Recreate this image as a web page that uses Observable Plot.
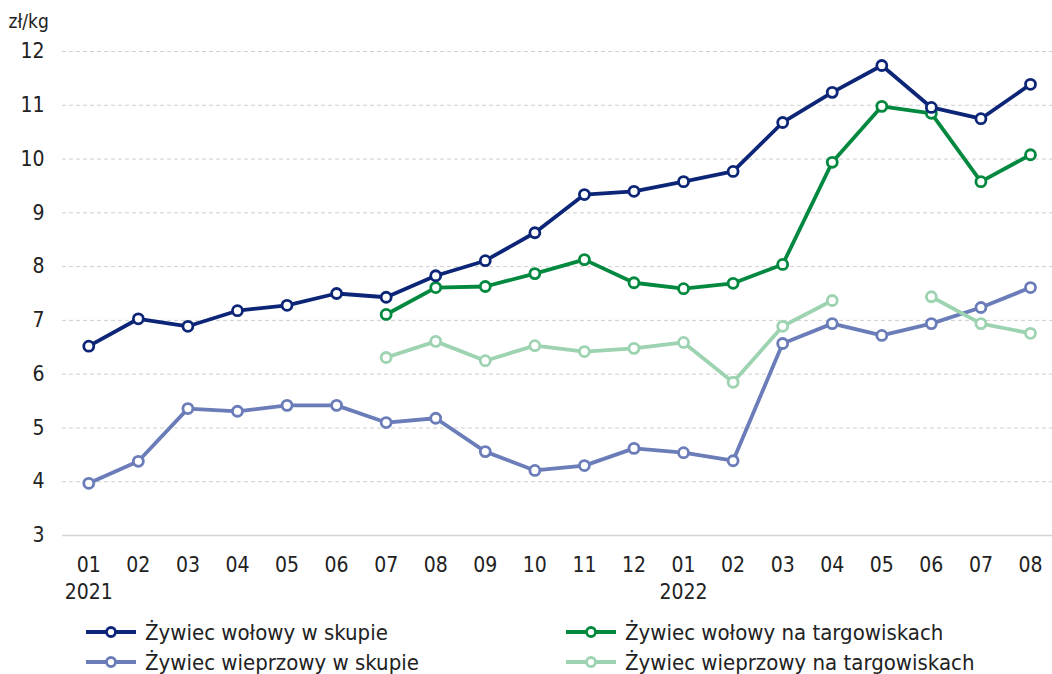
<!DOCTYPE html>
<html>
<head>
<meta charset="utf-8">
<script src="https://cdn.jsdelivr.net/npm/d3@7"></script>
<script src="https://cdn.jsdelivr.net/npm/@observablehq/plot@0.6"></script>
<style>
  body { margin: 0; background: #fff; font-family: "Liberation Sans Narrow", "DejaVu Sans Condensed", "Noto Sans", sans-serif; font-stretch: condensed; }
  #chart svg { display: block; }
  .legend { position: relative; height: 64px; width: 1052px; color: #222; font-size: 22px; }
  .item { position: absolute; display: flex; align-items: center; height: 30px; }
  .item svg { margin-right: 8px; }
</style>
</head>
<body>
<div id="chart"></div>
<div class="legend" id="legend"></div>
<script>
const months = ["01","02","03","04","05","06","07","08","09","10","11","12","01","02","03","04","05","06","07","08"];
const years = [{i: 0, label: "2021"}, {i: 12, label: "2022"}];
const seriesNames = ["Żywiec wołowy w skupie", "Żywiec wołowy na targowiskach", "Żywiec wieprzowy w skupie", "Żywiec wieprzowy na targowiskach"];
const colors = ["#0c2577", "#03893f", "#6a7db9", "#9dd3b1"];
const beefSkup = [6.52, 7.03, 6.89, 7.18, 7.28, 7.50, 7.43, 7.83, 8.11, 8.63, 9.34, 9.40, 9.58, 9.77, 10.68, 11.24, 11.74, 10.96, 10.75, 11.39];
const beefTarg = [null, null, null, null, null, null, 7.11, 7.61, 7.63, 7.87, 8.13, 7.70, 7.59, 7.69, 8.04, 9.94, 10.98, 10.85, 9.58, 10.08];
const porkSkup = [3.97, 4.38, 5.36, 5.31, 5.42, 5.42, 5.10, 5.18, 4.56, 4.21, 4.30, 4.62, 4.54, 4.39, 6.57, 6.94, 6.72, 6.94, 7.24, 7.61];
const porkTarg = [null, null, null, null, null, null, 6.31, 6.61, 6.25, 6.53, 6.42, 6.48, 6.59, 5.85, 6.89, 7.37, null, 7.44, 6.94, 6.76];
const yTicks = [3, 4, 5, 6, 7, 8, 9, 10, 11, 12];

const allSeries = [beefSkup, beefTarg, porkSkup, porkTarg];
const data = [];
allSeries.forEach((vals, s) => vals.forEach((v, i) => data.push({i, v, s: seriesNames[s]})));
const drawOrder = [2, 3, 1, 0];

const marks = [
  Plot.ruleY(yTicks.filter(d => d !== 3), {stroke: "#cfcfcf", strokeDasharray: "4,3", strokeWidth: 1}),
  Plot.ruleY([3], {stroke: "#d4d4d4", strokeWidth: 1.5}),
  Plot.axisY({ticks: yTicks, tickSize: 0, tickPadding: 18, fontSize: 21, label: null, tickFormat: d => d}),
  Plot.axisX({ticks: d3.range(20), tickSize: 0, tickPadding: 22, fontSize: 21, label: null, tickFormat: i => months[i]}),
  Plot.text(years, {x: "i", y: 3, text: "label", dy: 57, fontSize: 21, fill: "#222"}),
  Plot.text(["zł/kg"], {frameAnchor: "top-left", dx: -54, dy: -37, fontSize: 19, fill: "#222", textAnchor: "start"})
];
for (const s of drawOrder) {
  const sub = data.filter(d => d.s === seriesNames[s]);
  marks.push(Plot.line(sub, {x: "i", y: "v", stroke: colors[s], strokeWidth: 3.8}));
  marks.push(Plot.dot(sub, {x: "i", y: "v", r: 5, stroke: colors[s], strokeWidth: 2.8, fill: "white"}));
}

const chart = Plot.plot({
  width: 1052,
  height: 610,
  marginLeft: 62,
  marginRight: 0,
  marginTop: 51,
  marginBottom: 75,
  style: {fontFamily: '"Liberation Sans Narrow", "DejaVu Sans Condensed", "Noto Sans", sans-serif', color: "#222", background: "white"},
  x: {type: "linear", domain: [-0.53, 19.444], axis: null},
  y: {domain: [3, 12], axis: null},
  marks
});
document.getElementById("chart").appendChild(chart);

const legend = document.getElementById("legend");
const pos = [[85, 7], [565, 7], [85, 37], [565, 37]];
seriesNames.forEach((name, s) => {
  const div = document.createElement("div");
  div.className = "item";
  div.style.left = pos[s][0] + "px";
  div.style.top = pos[s][1] + "px";
  div.innerHTML = `<svg width="52" height="14"><line x1="1" x2="51" y1="7" y2="7" stroke="${colors[s]}" stroke-width="3.8"/><circle cx="26" cy="7" r="4.5" fill="white" stroke="${colors[s]}" stroke-width="2.8"/></svg><span>${name}</span>`;
  legend.appendChild(div);
});
</script>
</body>
</html>
